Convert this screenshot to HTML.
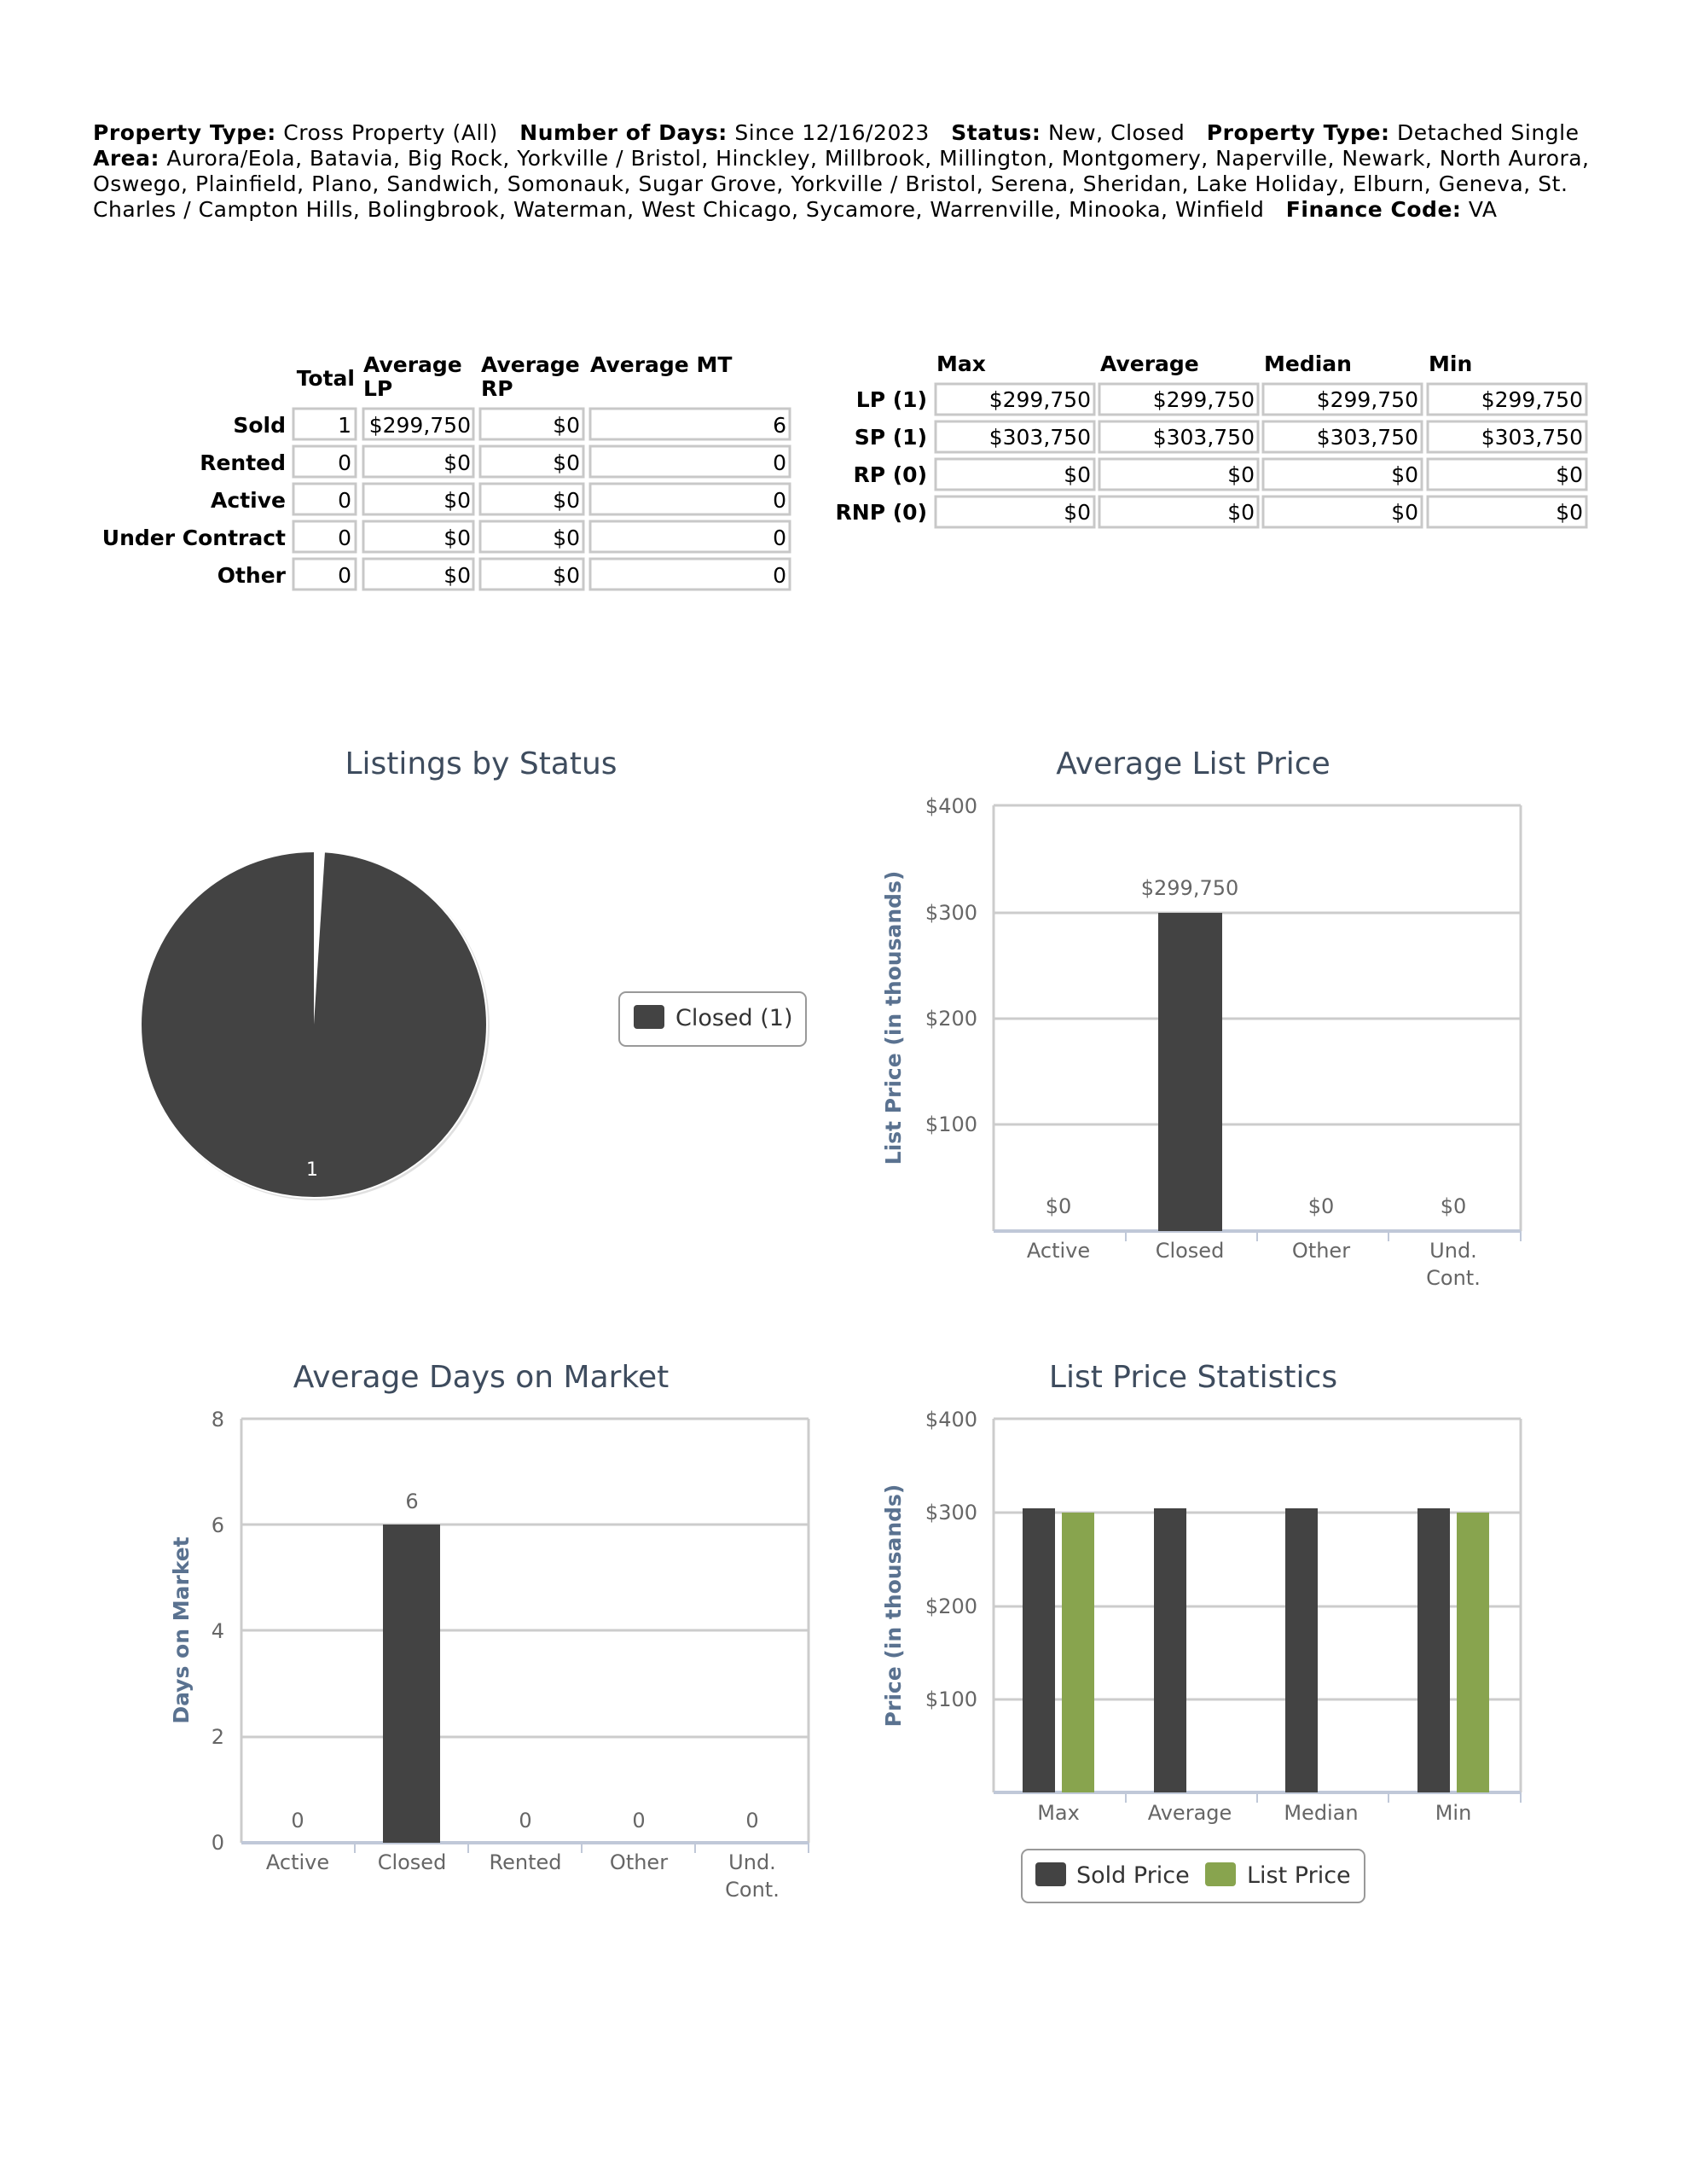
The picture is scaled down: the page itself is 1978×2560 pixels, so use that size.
<!DOCTYPE html>
<html><head><meta charset="utf-8"><style>
html,body{margin:0;padding:0;background:#fff;}
svg{display:block;}
.pre{white-space:pre;}
</style></head><body>
<svg width="1978" height="2560" viewBox="0 0 1978 2560" xmlns="http://www.w3.org/2000/svg" font-family="'DejaVu Sans','Liberation Sans',sans-serif">
<rect width="1978" height="2560" fill="#fff"/>
<g font-size="25" fill="#000" class="pre">
<text class="pre" x="109" y="164" textLength="1742" lengthAdjust="spacing"><tspan font-weight="bold">Property Type:</tspan> Cross Property (All)   <tspan font-weight="bold">Number of Days:</tspan> Since 12/16/2023   <tspan font-weight="bold">Status:</tspan> New, Closed   <tspan font-weight="bold">Property Type:</tspan> Detached Single</text>
<text class="pre" x="109" y="194" textLength="1754" lengthAdjust="spacing"><tspan font-weight="bold">Area:</tspan> Aurora/Eola, Batavia, Big Rock, Yorkville / Bristol, Hinckley, Millbrook, Millington, Montgomery, Naperville, Newark, North Aurora,</text>
<text class="pre" x="109" y="224" textLength="1729" lengthAdjust="spacing">Oswego, Plainfield, Plano, Sandwich, Somonauk, Sugar Grove, Yorkville / Bristol, Serena, Sheridan, Lake Holiday, Elburn, Geneva, St.</text>
<text class="pre" x="109" y="254" textLength="1646" lengthAdjust="spacing">Charles / Campton Hills, Bolingbrook, Waterman, West Chicago, Sycamore, Warrenville, Minooka, Winfield   <tspan font-weight="bold">Finance Code:</tspan> VA</text>
</g>
<!-- left table -->
<g font-size="25">
<g font-weight="bold">
<text x="416" y="452" text-anchor="end">Total</text>
<text x="426" y="436">Average</text><text x="426" y="464">LP</text>
<text x="564" y="436">Average</text><text x="564" y="464">RP</text>
<text x="692" y="436">Average MT</text>
<g text-anchor="end">
<text x="335" y="507">Sold</text>
<text x="335" y="551">Rented</text>
<text x="335" y="595">Active</text>
<text x="335" y="639">Under Contract</text>
<text x="335" y="683">Other</text>
</g></g>
<g fill="#fff" stroke="#c8c8c8" stroke-width="3">
<rect x="344" y="479" width="73" height="36"/><rect x="426" y="479" width="129" height="36"/><rect x="563" y="479" width="121" height="36"/><rect x="692" y="479" width="234" height="36"/>
<rect x="344" y="523" width="73" height="36"/><rect x="426" y="523" width="129" height="36"/><rect x="563" y="523" width="121" height="36"/><rect x="692" y="523" width="234" height="36"/>
<rect x="344" y="567" width="73" height="36"/><rect x="426" y="567" width="129" height="36"/><rect x="563" y="567" width="121" height="36"/><rect x="692" y="567" width="234" height="36"/>
<rect x="344" y="611" width="73" height="36"/><rect x="426" y="611" width="129" height="36"/><rect x="563" y="611" width="121" height="36"/><rect x="692" y="611" width="234" height="36"/>
<rect x="344" y="655" width="73" height="36"/><rect x="426" y="655" width="129" height="36"/><rect x="563" y="655" width="121" height="36"/><rect x="692" y="655" width="234" height="36"/>
</g>
<g text-anchor="end">
<text x="412" y="507">1</text><text x="552" y="507">$299,750</text><text x="680" y="507">$0</text><text x="922" y="507">6</text>
<text x="412" y="551">0</text><text x="552" y="551">$0</text><text x="680" y="551">$0</text><text x="922" y="551">0</text>
<text x="412" y="595">0</text><text x="552" y="595">$0</text><text x="680" y="595">$0</text><text x="922" y="595">0</text>
<text x="412" y="639">0</text><text x="552" y="639">$0</text><text x="680" y="639">$0</text><text x="922" y="639">0</text>
<text x="412" y="683">0</text><text x="552" y="683">$0</text><text x="680" y="683">$0</text><text x="922" y="683">0</text>
</g>
</g>
<!-- right table -->
<g font-size="25">
<g font-weight="bold">
<text x="1098" y="435">Max</text><text x="1290" y="435">Average</text><text x="1482" y="435">Median</text><text x="1675" y="435">Min</text>
<g text-anchor="end">
<text x="1087" y="477">LP (1)</text><text x="1087" y="521">SP (1)</text><text x="1087" y="565">RP (0)</text><text x="1087" y="609">RNP (0)</text>
</g></g>
<g fill="#fff" stroke="#c8c8c8" stroke-width="3">
<rect x="1097" y="450" width="186" height="36"/><rect x="1289" y="450" width="186" height="36"/><rect x="1481" y="450" width="186" height="36"/><rect x="1674" y="450" width="186" height="36"/>
<rect x="1097" y="494" width="186" height="36"/><rect x="1289" y="494" width="186" height="36"/><rect x="1481" y="494" width="186" height="36"/><rect x="1674" y="494" width="186" height="36"/>
<rect x="1097" y="538" width="186" height="36"/><rect x="1289" y="538" width="186" height="36"/><rect x="1481" y="538" width="186" height="36"/><rect x="1674" y="538" width="186" height="36"/>
<rect x="1097" y="582" width="186" height="36"/><rect x="1289" y="582" width="186" height="36"/><rect x="1481" y="582" width="186" height="36"/><rect x="1674" y="582" width="186" height="36"/>
</g>
<g text-anchor="end">
<text x="1279" y="477">$299,750</text><text x="1471" y="477">$299,750</text><text x="1663" y="477">$299,750</text><text x="1856" y="477">$299,750</text>
<text x="1279" y="521">$303,750</text><text x="1471" y="521">$303,750</text><text x="1663" y="521">$303,750</text><text x="1856" y="521">$303,750</text>
<text x="1279" y="565">$0</text><text x="1471" y="565">$0</text><text x="1663" y="565">$0</text><text x="1856" y="565">$0</text>
<text x="1279" y="609">$0</text><text x="1471" y="609">$0</text><text x="1663" y="609">$0</text><text x="1856" y="609">$0</text>
</g>
</g>

<!-- Titles -->
<g font-size="36" fill="#3e4c5e" text-anchor="middle">
<text x="564" y="907">Listings by Status</text>
<text x="1399" y="907">Average List Price</text>
<text x="564" y="1626">Average Days on Market</text>
<text x="1399" y="1626">List Price Statistics</text>
</g>

<!-- Pie -->
<circle cx="370" cy="1203" r="204" fill="#ccc" opacity="0.6"/>
<circle cx="368" cy="1201" r="203" fill="#434343" stroke="#fff" stroke-width="2"/>
<path d="M368 1201 L368 998 L381 998.5 Z" fill="#fff"/>
<text x="366" y="1378" font-size="22" fill="#fff" text-anchor="middle">1</text>
<rect x="726" y="1163" width="219" height="63" rx="8" fill="#fff" stroke="#999" stroke-width="2"/>
<rect x="743" y="1178" width="36" height="28" rx="4" fill="#434343"/>
<text x="792" y="1202" font-size="27" fill="#333">Closed (1)</text>

<!-- Average List Price chart -->
<g stroke="#ccc" stroke-width="3">
<line x1="1165" y1="944" x2="1783" y2="944"/><line x1="1165" y1="1070" x2="1783" y2="1070"/><line x1="1165" y1="1194" x2="1783" y2="1194"/><line x1="1165" y1="1318" x2="1783" y2="1318"/>
<line x1="1165" y1="944" x2="1165" y2="1443"/><line x1="1783" y1="944" x2="1783" y2="1443"/>
</g>
<line x1="1165" y1="1443" x2="1783" y2="1443" stroke="#c0c8d8" stroke-width="4"/>
<g stroke="#c0c8d8" stroke-width="2"><line x1="1320" y1="1443" x2="1320" y2="1455"/><line x1="1474" y1="1443" x2="1474" y2="1455"/><line x1="1628" y1="1443" x2="1628" y2="1455"/><line x1="1783" y1="1443" x2="1783" y2="1455"/></g>
<rect x="1358" y="1070" width="75" height="373" fill="#434343"/>
<g font-size="24" fill="#666" text-anchor="end">
<text x="1146" y="953">$400</text><text x="1146" y="1078">$300</text><text x="1146" y="1202">$200</text><text x="1146" y="1326">$100</text>
</g>
<g font-size="24" fill="#666" text-anchor="middle">
<text x="1395" y="1049">$299,750</text>
<text x="1241" y="1422">$0</text><text x="1549" y="1422">$0</text><text x="1704" y="1422">$0</text>
<text x="1241" y="1474">Active</text><text x="1395" y="1474">Closed</text><text x="1549" y="1474">Other</text><text x="1704" y="1474">Und.</text><text x="1704" y="1506">Cont.</text>
</g>
<text transform="translate(1056,1193) rotate(-90)" font-size="25" font-weight="bold" fill="#5a7290" text-anchor="middle">List Price (in thousands)</text>

<!-- Average Days chart -->
<g stroke="#ccc" stroke-width="3">
<line x1="283" y1="1663" x2="948" y2="1663"/><line x1="283" y1="1787" x2="948" y2="1787"/><line x1="283" y1="1911" x2="948" y2="1911"/><line x1="283" y1="2036" x2="948" y2="2036"/>
<line x1="283" y1="1663" x2="283" y2="2160"/><line x1="948" y1="1663" x2="948" y2="2160"/>
</g>
<line x1="283" y1="2160" x2="948" y2="2160" stroke="#c0c8d8" stroke-width="4"/>
<g stroke="#c0c8d8" stroke-width="2"><line x1="416" y1="2160" x2="416" y2="2172"/><line x1="549" y1="2160" x2="549" y2="2172"/><line x1="682" y1="2160" x2="682" y2="2172"/><line x1="815" y1="2160" x2="815" y2="2172"/><line x1="948" y1="2160" x2="948" y2="2172"/></g>
<rect x="449" y="1787" width="67" height="373" fill="#434343"/>
<g font-size="24" fill="#666" text-anchor="end">
<text x="263" y="1672">8</text><text x="263" y="1796">6</text><text x="263" y="1920">4</text><text x="263" y="2044">2</text><text x="263" y="2168">0</text>
</g>
<g font-size="24" fill="#666" text-anchor="middle">
<text x="483" y="1768">6</text>
<text x="349" y="2142">0</text><text x="616" y="2142">0</text><text x="749" y="2142">0</text><text x="882" y="2142">0</text>
<text x="349" y="2191">Active</text><text x="483" y="2191">Closed</text><text x="616" y="2191">Rented</text><text x="749" y="2191">Other</text><text x="882" y="2191">Und.</text><text x="882" y="2223">Cont.</text>
</g>
<text transform="translate(221,1911) rotate(-90)" font-size="25" font-weight="bold" fill="#5a7290" text-anchor="middle">Days on Market</text>

<!-- List Price Stats chart -->
<g stroke="#ccc" stroke-width="3">
<line x1="1165" y1="1663" x2="1783" y2="1663"/><line x1="1165" y1="1773" x2="1783" y2="1773"/><line x1="1165" y1="1883" x2="1783" y2="1883"/><line x1="1165" y1="1992" x2="1783" y2="1992"/>
<line x1="1165" y1="1663" x2="1165" y2="2101"/><line x1="1783" y1="1663" x2="1783" y2="2101"/>
</g>
<line x1="1165" y1="2101" x2="1783" y2="2101" stroke="#c0c8d8" stroke-width="4"/>
<g stroke="#c0c8d8" stroke-width="2"><line x1="1320" y1="2101" x2="1320" y2="2113"/><line x1="1474" y1="2101" x2="1474" y2="2113"/><line x1="1628" y1="2101" x2="1628" y2="2113"/><line x1="1783" y1="2101" x2="1783" y2="2113"/></g>
<g fill="#434343">
<rect x="1199" y="1768" width="38" height="333"/><rect x="1353" y="1768" width="38" height="333"/><rect x="1507" y="1768" width="38" height="333"/><rect x="1662" y="1768" width="38" height="333"/>
</g>
<g fill="#88a44e">
<rect x="1245" y="1773" width="38" height="328"/><rect x="1708" y="1773" width="38" height="328"/>
</g>
<g font-size="24" fill="#666" text-anchor="end">
<text x="1146" y="1672">$400</text><text x="1146" y="1781">$300</text><text x="1146" y="1891">$200</text><text x="1146" y="2000">$100</text>
</g>
<g font-size="24" fill="#666" text-anchor="middle">
<text x="1241" y="2133">Max</text><text x="1395" y="2133">Average</text><text x="1549" y="2133">Median</text><text x="1704" y="2133">Min</text>
</g>
<text transform="translate(1056,1882) rotate(-90)" font-size="25" font-weight="bold" fill="#5a7290" text-anchor="middle">Price (in thousands)</text>
<rect x="1198" y="2168" width="402" height="62" rx="8" fill="#fff" stroke="#999" stroke-width="2"/>
<rect x="1214" y="2183" width="36" height="28" rx="4" fill="#434343"/>
<text x="1262" y="2207" font-size="27" fill="#333">Sold Price</text>
<rect x="1413" y="2183" width="36" height="28" rx="4" fill="#88a44e"/>
<text x="1462" y="2207" font-size="27" fill="#333">List Price</text>
</svg>
</body></html>
